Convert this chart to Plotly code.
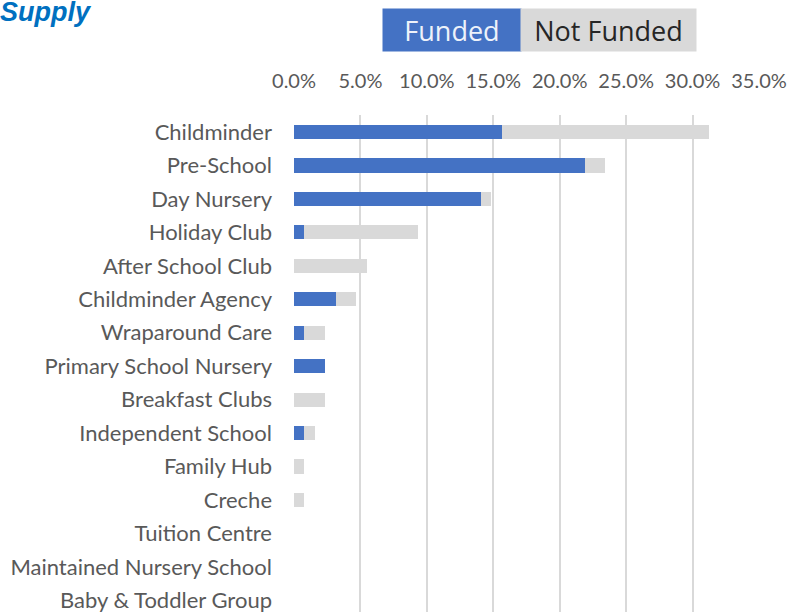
import plotly.graph_objects as go

# Provider types and share of supply (%) split by funding status
categories = [
    "Childminder", "Pre-School", "Day Nursery", "Holiday Club", "After School Club",
    "Childminder Agency", "Wraparound Care", "Primary School Nursery", "Breakfast Clubs",
    "Independent School", "Family Hub", "Creche", "Tuition Centre",
    "Maintained Nursery School", "Baby & Toddler Group",
]
funded = [15.63, 21.88, 14.06, 0.78, 0.0, 3.13, 0.78, 2.34, 0.0, 0.78, 0.0, 0.0, 0.0, 0.0, 0.0]
not_funded = [15.63, 1.56, 0.78, 8.59, 5.47, 1.56, 1.56, 0.0, 2.34, 0.78, 0.78, 0.78, 0.0, 0.0, 0.0]
x_ticks = [0, 5, 10, 15, 20, 25, 30, 35]

BLUE = "#4472C4"
GREY = "#D9D9D9"
TEXT = "#595959"
FONT = "Lato"

fig = go.Figure()
fig.add_trace(go.Bar(y=categories, x=funded, orientation="h", name="Funded",
                     marker=dict(color=BLUE, line=dict(width=0))))
fig.add_trace(go.Bar(y=categories, x=not_funded, orientation="h", name="Not Funded",
                     marker=dict(color=GREY, line=dict(width=0))))

fig.update_layout(
    width=788, height=612,
    margin=dict(l=294, r=29, t=115, b=0),
    barmode="stack", bargap=0.58,
    showlegend=False,
    plot_bgcolor="white", paper_bgcolor="white",
    font=dict(family=FONT, color=TEXT, size=20),
)
fig.update_xaxes(
    side="top", range=[0, 35], tickvals=x_ticks,
    ticktext=[f"{v:.1f}%" for v in x_ticks],
    showgrid=True, gridcolor=GREY, gridwidth=2,
    zeroline=False, showline=False,
    ticks="", ticklabelstandoff=22,
    tickfont=dict(family=FONT, size=20, color=TEXT),
)
fig.update_yaxes(
    type="category", range=[14.35, -0.51],
    showgrid=False, zeroline=False, showline=False,
    ticks="", ticklabelstandoff=21,
    tickfont=dict(family=FONT, size=22, color=TEXT),
)

# Pixel helpers for paper-positioned decorations
plot_w, plot_h = 465, 497
def px_x(px):
    return (px - 294) / plot_w
def px_y(py):
    return (612 - py) / plot_h

# Title
fig.add_annotation(
    text="<b><i>Supply</i></b>", xref="paper", yref="paper",
    x=px_x(-2), y=px_y(-5), xanchor="left", yanchor="top",
    showarrow=False, font=dict(family="Liberation Sans", size=27, color="#0070C0"),
)

# Boxed legend
fig.add_annotation(
    text="Funded", xref="paper", yref="paper",
    x=px_x(382), y=px_y(8), xanchor="left", yanchor="top",
    width=138, height=42, bgcolor=BLUE, borderpad=0,
    showarrow=False, align="center", valign="middle",
    font=dict(family="Open Sans", size=27, color="#EEF2FA"),
)
fig.add_annotation(
    text="Not Funded", xref="paper", yref="paper",
    x=px_x(520), y=px_y(8), xanchor="left", yanchor="top",
    width=175, height=42, bgcolor=GREY, borderpad=0,
    showarrow=False, align="center", valign="middle",
    font=dict(family="Open Sans", size=27, color="#262626"),
)

fig.write_html("out.html")
